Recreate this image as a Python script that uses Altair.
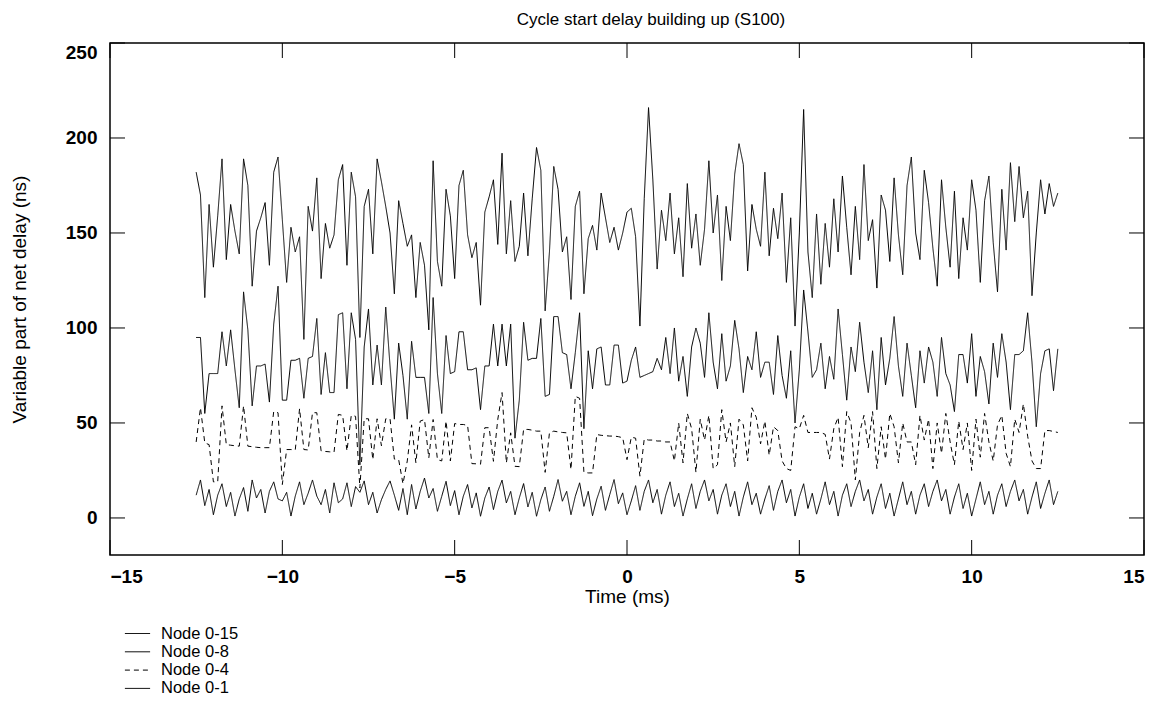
import altair as alt
import pandas as pd

# sampling grid of the recorded cycles (ms)
T0 = -12.5
DT = 0.125

node_0_15 = [
    182, 170, 116, 165, 132, 159, 189, 136, 165, 151,
    139, 189, 175, 122, 151, 158, 166, 133, 182, 190,
    157, 124, 153, 140, 148, 94, 164, 151, 179, 126,
    155, 142, 149, 178, 186, 133, 182, 169, 95, 164,
    173, 139, 189, 177, 164, 150, 118, 167, 155, 143,
    149, 116, 145, 133, 99, 188, 135, 122, 173, 159,
    126, 175, 183, 149, 137, 145, 112, 161, 169, 178,
    144, 192, 139, 167, 135, 143, 171, 138, 168, 195,
    183, 109, 140, 185, 173, 140, 148, 115, 164, 172,
    118, 147, 154, 141, 171, 158, 145, 153, 141, 150,
    161, 163, 148, 101, 168, 216, 178, 131, 162, 146,
    171, 139, 158, 127, 176, 142, 160, 133, 152, 188,
    150, 170, 125, 164, 146, 181, 197, 186, 130, 165,
    152, 143, 182, 138, 163, 147, 171, 124, 158, 101,
    150, 215, 140, 116, 160, 123, 155, 132, 168, 140,
    180, 153, 128, 164, 136, 186, 146, 157, 121, 170,
    162, 135, 179, 149, 128, 175, 190, 150, 136, 183,
    166, 142, 122, 178, 153, 132, 172, 126, 158, 141,
    178, 162, 124, 167, 180, 145, 119, 173, 141, 187,
    156, 185, 158, 172, 117, 150, 178, 160, 176, 164,
    171,
]

node_0_8 = [
    95, 95, 55, 76, 76, 76, 98, 80, 99, 78,
    58, 119, 99, 59, 80, 80, 81, 61, 102, 122,
    62, 62, 83, 83, 84, 63, 84, 85, 105, 65,
    87, 66, 66, 107, 108, 68, 108, 94, 28, 90,
    110, 70, 91, 70, 111, 80, 52, 92, 75, 52,
    93, 74, 74, 74, 55, 116, 76, 55, 96, 76,
    77, 98, 98, 78, 78, 79, 57, 80, 80, 102,
    80, 102, 80, 102, 42, 62, 103, 83, 84, 84,
    105, 64, 65, 106, 106, 87, 86, 68, 87, 108,
    47, 88, 68, 89, 90, 70, 70, 91, 91, 71,
    72, 83, 90, 74, 75, 76, 77, 84, 78, 95,
    76, 100, 72, 85, 64, 90, 100, 92, 74, 108,
    82, 68, 97, 72, 80, 104, 89, 66, 85, 78,
    98, 74, 82, 82, 65, 96, 75, 63, 88, 50,
    78, 120, 98, 74, 78, 92, 68, 85, 73, 110,
    86, 62, 90, 77, 103, 82, 66, 88, 57, 95,
    70, 84, 106, 80, 64, 92, 75, 58, 88, 71,
    90, 82, 64, 95, 76, 70, 56, 86, 86, 71,
    97, 64, 85, 77, 60, 92, 74, 97, 82, 57,
    86, 86, 88, 108, 82, 48, 76, 88, 89, 67,
    89,
]

node_0_4 = [
    40, 58, 39.5, 38.6, 19, 19, 59, 38.6, 38.3, 38,
    37.8, 59, 37.8, 37.5, 37.2, 37, 37, 37, 56, 55.4,
    17.6, 36, 36, 35.8, 57.5, 36, 35.8, 55.4, 55.4, 35.3,
    35, 34.8, 34.6, 54.5, 54, 35.3, 54, 53.5, 15.8, 52.2,
    52.2, 30.7, 52.2, 38, 52.2, 52.2, 31, 30.7, 18, 30,
    49, 29, 51, 51.8, 31.6, 51.8, 30.7, 30, 51, 30,
    49.7, 49.2, 49.2, 48.7, 28.6, 28.5, 28.3, 47.5, 47.5, 29.8,
    51.8, 66, 29, 44.8, 27.2, 27, 46.6, 46.6, 46.2, 45.7,
    45.7, 24, 44.8, 45.7, 45.3, 45, 44.8, 25.5, 64, 63,
    24, 23.7, 23.7, 43.9, 43.5, 43.3, 43.1, 43.1, 42.8, 42.2,
    30.7, 42.5, 42, 22, 41.5, 41, 41, 40.5, 40.5, 40,
    40, 30, 50, 29, 55, 47, 24, 52, 41, 54,
    26, 28, 57, 40, 50, 27, 52, 49, 30, 58,
    53, 39, 51, 33, 48, 46, 30, 26, 25, 48,
    47, 54, 45, 45, 45, 45, 44, 31, 47, 53,
    27, 56, 50, 20, 45, 54, 37, 56, 26, 48,
    31, 55, 48, 29, 50, 40, 40, 28, 54, 41,
    52, 26, 50, 34, 55, 40, 28, 51, 36, 50,
    25, 52, 32, 55, 40, 30, 49, 54, 34, 27,
    52, 45, 60, 43, 30, 26, 26, 46, 46, 45.5,
    45,
]

node_0_1 = [
    12, 20, 6.5, 15, 1.7, 12, 18, 6, 13.5, 1,
    10, 16, 3.5, 20, 10.5, 15, 2.6, 14, 19, 10,
    9, 13.5, 1, 11.5, 19, 7, 13, 20, 11.5, 7,
    15, 2.6, 18.5, 8, 10, 18.5, 6, 16.5, 13.5, 19.5,
    7, 13.5, 2.6, 9.6, 15, 19.5, 12, 4, 15.5, 1.7,
    17.6, 4.7, 14, 21, 10.5, 15.5, 3.5, 11.4, 19.3, 6.5,
    14.4, 1.7, 11.4, 17.6, 5.3, 13.2, 0.9, 10.5, 16.3, 4.4,
    14, 19.9, 7.9, 14, 1.7, 10.5, 18.1, 5.8, 13.5, 0.9,
    9.6, 16.3, 3.5, 11.4, 20.2, 8.8, 14, 1.7, 11.4, 18.5,
    6.1, 14, 1.2, 10, 16.7, 4, 12.3, 20.2, 7.5, 13.2,
    1.7, 9, 17, 4, 14, 20, 8, 15, 2, 12,
    19, 6, 13, 1, 10, 18, 5, 14, 20, 9,
    15, 2, 12, 18, 6, 14, 1, 11, 19, 7,
    13, 2, 10, 17, 4, 14, 20, 8, 15, 1,
    11, 18, 5, 13, 2, 10, 19, 7, 14, 1,
    12, 18, 6, 14, 20, 9, 15, 2, 11, 18,
    5, 13, 1, 10, 19, 7, 14, 2, 12, 18,
    6, 14, 20, 9, 15, 2, 11, 18, 5, 13,
    1, 10, 19, 7, 14, 2, 12, 18, 6, 14,
    20, 9, 15, 2, 11, 19, 5, 13, 20, 7,
    14,
]

series_names = ["Node 0-15", "Node 0-8", "Node 0-4", "Node 0-1"]
dash_styles = [[1, 0], [1, 0], [5, 4], [1, 0]]
x_ticks = [-15, -10, -5, 0, 5, 10, 15]
y_ticks = [0, 50, 100, 150, 200, 250]

rows = []
for name, vals in zip(series_names, [node_0_15, node_0_8, node_0_4, node_0_1]):
    for i, v in enumerate(vals):
        if v is None:
            continue
        rows.append({"series": name, "time": T0 + DT * i, "delay": v, "idx": i})
df = pd.DataFrame(rows)

W, H = 1034, 512
TICK = 15
FONT = "Liberation Sans"

xs = alt.Scale(domain=[-15, 15], nice=False, zero=False)
ys = alt.Scale(domain=[-19.5, 250], nice=False, zero=False)

xaxis = alt.Axis(
    title="Time (ms)", values=x_ticks, format="d", labelFlush=True,
    ticks=False, domain=False, grid=False, labelFontWeight="bold",
    labelFontSize=19, labelPadding=12, labelColor="black",
    titleFontSize=19, titleFontWeight="normal", titlePadding=1, titleColor="black",
)
yaxis = alt.Axis(
    title="Variable part of net delay (ns)", values=y_ticks, format="d",
    labelFlush=True, ticks=False, domain=False, grid=False,
    labelFontWeight="bold", labelFontSize=19, labelPadding=13, labelColor="black",
    titleFontSize=19, titleFontWeight="normal", titlePadding=36, titleColor="black",
)

lines = alt.Chart(df).mark_line(color="black", strokeWidth=1).encode(
    x=alt.X("time:Q", scale=xs, axis=xaxis),
    y=alt.Y("delay:Q", scale=ys, axis=yaxis),
    strokeDash=alt.StrokeDash(
        "series:N",
        scale=alt.Scale(domain=series_names, range=dash_styles),
        legend=alt.Legend(
            title=None, orient="none", legendX=18, legendY=581,
            symbolType="M-1.4,0H1.4", symbolSize=324, symbolStrokeWidth=1,
            symbolStrokeColor="black", symbolFillColor="transparent",
            labelFontSize=16.5, labelColor="black",
            labelOffset=14, rowPadding=0.3, padding=0,
        ),
    ),
    order="idx:Q",
)

xt = pd.DataFrame({"time": x_ticks})
yt = pd.DataFrame({"delay": y_ticks})

bottom_ticks = alt.Chart(xt).mark_rule(color="black", strokeWidth=1).encode(
    x=alt.X("time:Q", scale=xs, axis=xaxis), y=alt.value(H), y2=alt.value(H - TICK))
top_ticks = alt.Chart(xt).mark_rule(color="black", strokeWidth=1).encode(
    x=alt.X("time:Q", scale=xs, axis=xaxis), y=alt.value(0), y2=alt.value(TICK))
left_ticks = alt.Chart(yt).mark_rule(color="black", strokeWidth=1).encode(
    y=alt.Y("delay:Q", scale=ys, axis=yaxis), x=alt.value(0), x2=alt.value(TICK))
right_ticks = alt.Chart(yt).mark_rule(color="black", strokeWidth=1).encode(
    y=alt.Y("delay:Q", scale=ys, axis=yaxis), x=alt.value(W), x2=alt.value(W - TICK))

chart = alt.layer(lines, bottom_ticks, top_ticks, left_ticks, right_ticks).properties(
    width=W, height=H,
    title=alt.TitleParams(
        "Cycle start delay building up (S100)", fontSize=17, fontWeight="normal",
        anchor="middle", offset=14, color="black", font=FONT, dx=24,
    ),
    autosize=alt.AutoSizeParams(type="none"),
    padding={"left": 102, "top": 35, "right": 2, "bottom": 150},
).configure(font=FONT, background="white").configure_view(
    stroke="black", strokeWidth=1.5
)

chart.save("out.html", embed_options={"renderer": "svg", "actions": False})
